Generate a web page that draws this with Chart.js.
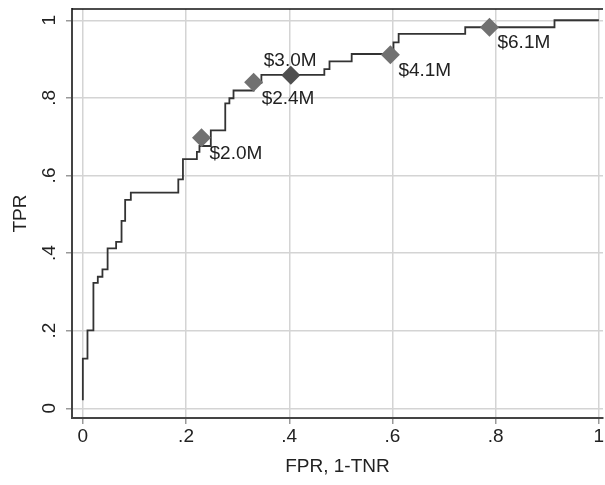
<!DOCTYPE html>
<html>
<head>
<meta charset="utf-8">
<script src="https://cdn.jsdelivr.net/npm/chart.js@4"></script>
<style>
  body { margin: 0; background: #fff; }
  #wrap { width: 605px; height: 485px; }
</style>
</head>
<body>
<div id="wrap"><canvas id="chart"></canvas></div>
<script>

/* ROC curve, step points (FPR, TPR) */
const fpr = [0, 0, 0.009, 0.0205, 0.029, 0.038, 0.048, 0.0645, 0.075, 0.082, 0.093,
             0.185, 0.194, 0.221, 0.226, 0.248, 0.276, 0.284, 0.292, 0.331, 0.346,
             0.468, 0.478, 0.521, 0.602, 0.612, 0.741, 0.914, 1.0];
const tpr = [0.021, 0.128, 0.201, 0.323, 0.339, 0.358, 0.412, 0.429, 0.483, 0.537, 0.556,
             0.590, 0.642, 0.661, 0.676, 0.716, 0.786, 0.799, 0.819, 0.839, 0.859,
             0.874, 0.894, 0.913, 0.943, 0.965, 0.982, 1.0, 1.0];

/* cutoff markers */
const cutLabels = ["$2.0M", "$2.4M", "$3.0M", "$4.1M", "$6.1M"];
const cutFpr = [0.230, 0.331, 0.403, 0.596, 0.788];
const cutTpr = [0.697, 0.840, 0.858, 0.911, 0.982];

const xTicks = [0, 0.2, 0.4, 0.6, 0.8, 1];
const yTicks = [0, 0.2, 0.4, 0.6, 0.8, 1];

const FONT = "'Liberation Sans', Arial, sans-serif";

function fmt(v){
    if (v === 0) return "0";
    if (v === 1) return "1";
    return String(Math.round(v*10)/10).replace("0.", ".");
}

const curve = fpr.map((x,i)=>({x:x, y:tpr[i]}));
const cuts = cutFpr.map((x,i)=>({x:x, y:cutTpr[i]}));

const extras = {
    id: "extras",
    afterDraw(chart){
        const ctx = chart.ctx;
        const a = chart.chartArea;
        const xs = chart.scales.x, ys = chart.scales.y;
        ctx.save();

        // top frame line
        ctx.strokeStyle = "#111";
        ctx.lineWidth = 1.5;
        ctx.beginPath();
        ctx.moveTo(a.left, a.top);
        ctx.lineTo(a.right, a.top);
        ctx.stroke();

        ctx.fillStyle = "#222";
        ctx.font = "19px " + FONT;
        ctx.textAlign = "center";
        ctx.textBaseline = "middle";

        // x tick labels
        xTicks.forEach(v=>{
            ctx.fillText(fmt(v), xs.getPixelForValue(v), a.bottom + 19);
        });

        // rotated y tick labels
        yTicks.forEach(v=>{
            ctx.save();
            ctx.translate(50, ys.getPixelForValue(v));
            ctx.rotate(-Math.PI/2);
            ctx.fillText(fmt(v), 0, 0);
            ctx.restore();
        });

        // cutoff labels
        ctx.textAlign = "left";
        cutLabels.forEach((lab,i)=>{
            const px = xs.getPixelForValue(cutFpr[i]);
            const py = ys.getPixelForValue(cutTpr[i]);
            if (lab === "$3.0M") ctx.fillText(lab, px - 27, py - 15);
            else ctx.fillText(lab, px + 8, py + 16);
        });
        ctx.restore();
    }
};

new Chart(document.getElementById("chart"),{

    type:"scatter",

    data:{
        datasets:[{
            data:cuts,
            pointStyle:"rectRot",
            pointRadius:9.5,
            pointHoverRadius:9.5,
            borderWidth:0,
            backgroundColor:cutLabels.map(l => l === "$3.0M" ? "#4f4f4f" : "#717171"),
            borderColor:"rgba(0,0,0,0)"
        },{
            data:curve,
            showLine:true,
            stepped:"before",
            pointRadius:0,
            borderColor:"#333",
            borderWidth:1.8,
            fill:false
        }]
    },

    options:{
        responsive:true,
        maintainAspectRatio:false,
        animation:false,
        events:[],
        layout:{ autoPadding:false, padding:{ top:9, right:2, left:0, bottom:0 } },
        plugins:{ legend:{display:false}, tooltip:{enabled:false} },
        scales:{
            x:{
                type:"linear",
                min:-0.021,
                max:1.008,
                afterBuildTicks: s => { s.ticks = xTicks.map(v=>({value:v})); },
                afterFit: s => { s.height = 67; },
                grid:{ color:"#d4d4d4", lineWidth:1.5, tickLength:6, tickColor:"#999" },
                border:{ color:"#444", width:2 },
                ticks:{ display:false },
                title:{ display:true, text:"FPR, 1-TNR", color:"#222", font:{ family:FONT, size:19 }, padding:{top:0,bottom:7} }
            },
            y:{
                type:"linear",
                min:-0.025,
                max:1.029,
                afterBuildTicks: s => { s.ticks = yTicks.map(v=>({value:v})); },
                afterFit: s => { s.width = 72; },
                grid:{ color:"#d4d4d4", lineWidth:1.5, tickLength:6, tickColor:"#999" },
                border:{ color:"#444", width:2 },
                ticks:{ display:false },
                title:{ display:true, text:"TPR", color:"#222", font:{ family:FONT, size:19 }, padding:{top:9,bottom:0} }
            }
        }
    },

    plugins:[extras]

});

</script>
</body>
</html>
